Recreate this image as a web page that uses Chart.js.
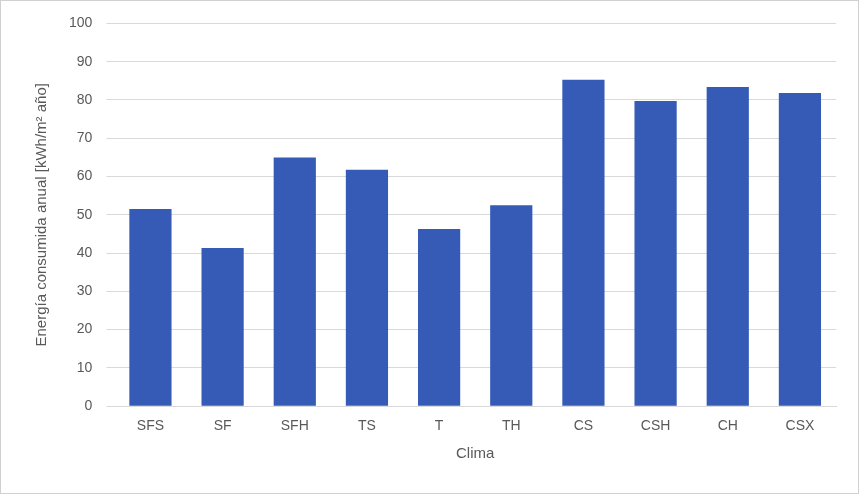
<!DOCTYPE html>
<html><head><meta charset="utf-8">
<script src="https://cdn.jsdelivr.net/npm/chart.js@4"></script>
<style>html,body{margin:0;padding:0;background:#fff}#w{position:absolute;left:0;top:0;width:857px;height:492px;border:1px solid #d0d0d0}</style>
</head><body><div id="w"><canvas id="c"></canvas></div>
<script>
const categories=["SFS","SF","SFH","TS","T","TH","CS","CSH","CH","CSX"];
const values=[51.5,41.3,65.0,61.8,46.3,52.5,85.3,79.7,83.4,81.8];
const yTicks={min:0,max:100,step:10};
new Chart(document.getElementById('c'),{type:'bar',
data:{labels:categories,datasets:[{data:values,backgroundColor:'#355BB7',categoryPercentage:1,barPercentage:0.585}]},
options:{responsive:true,maintainAspectRatio:false,animation:false,
layout:{padding:{left:28,right:22,top:17,bottom:26}},
plugins:{legend:{display:false},tooltip:{enabled:false}},
scales:{x:{grid:{display:false},border:{color:'#d9d9d9'},ticks:{color:'#595959',padding:4,font:{family:'Liberation Sans',size:14}},
title:{display:true,text:'Clima',color:'#595959',padding:{top:6},font:{family:'Liberation Sans',size:15}}},
y:{min:yTicks.min,max:yTicks.max,ticks:{stepSize:yTicks.step,color:'#595959',padding:14,font:{family:'Liberation Sans',size:14}},
grid:{color:'#d9d9d9'},border:{display:false},
title:{display:true,text:'Energía consumida anual [kWh/m² año]',color:'#595959',padding:{bottom:4},font:{family:'Liberation Sans',size:15}}}}}});
</script></body></html>
